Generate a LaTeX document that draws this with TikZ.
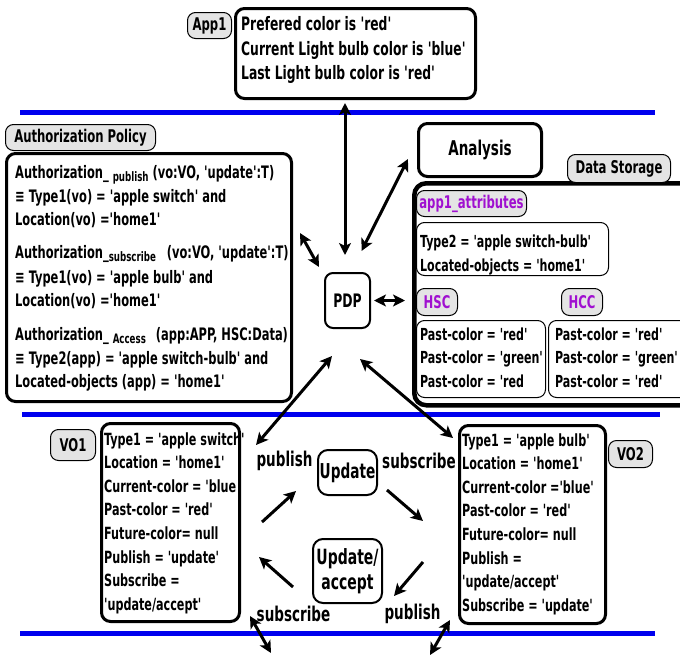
\documentclass[tikz,border=0pt]{standalone}
\usepackage{fontspec}
\newfontfamily\dv{DejaVu Sans Condensed Bold}[FakeStretch=0.74]
\usetikzlibrary{arrows.meta,calc}
\definecolor{lblgray}{HTML}{E4E4E4}
\definecolor{lblpurple}{HTML}{A010D0}
\definecolor{sepblue}{HTML}{0000EE}
\tikzset{
  T/.style={font=\dv\fontsize{#1}{20}\selectfont, inner sep=0pt, anchor=base west},
  T/.default=17.2,
  TC/.style={font=\dv\fontsize{17.5}{20}\selectfont},
  boxthick/.style={draw, line width=3pt, rounded corners=9pt, anchor=north west},
  boxthin/.style={draw, line width=1pt, rounded corners=8pt, anchor=north west},
  tag/.style={draw, line width=1pt, fill=lblgray, rounded corners=8pt, anchor=north west, inner sep=0pt, TC},
  sepline/.style={draw=sepblue, line width=5pt},
  dbl/.style={line width=3pt, {Stealth[length=12pt,width=12pt,inset=3pt]}-{Stealth[length=12pt,width=12pt,inset=3pt]}},
  sgl/.style={line width=3pt, -{Stealth[length=12pt,width=12pt,inset=3pt]}},
  lbl/.style={font=\dv\fontsize{20.3}{22}\selectfont, inner sep=0pt},
}
\newcommand{\subsm}[1]{\raisebox{-3pt}{\fontsize{13}{13}\selectfont #1}}
\begin{document}
\begin{tikzpicture}[x=1pt,y=-1pt]
\useasboundingbox (0,0) rectangle (680,656);

% separator lines
\draw[sepline] (20,112) -- (655,112);
\draw[sepline] (22,414) -- (660,414);
\draw[sepline] (20,633) -- (655,633);

% App1
\node[boxthick, minimum width=240pt, minimum height=90pt] (app1) at (234,7) {};
\node[tag, minimum width=44pt, minimum height=26pt] (app1tag) at (187,12) {App1};
\foreach \s [count=\i] in {{Prefered color is 'red'},{Current Light bulb color is 'blue'},{Last Light bulb color is 'red'}}
  \node[T=18.5] (app1l\i) at (241,{30.5+24.5*(\i-1)}) {\s};

% Authorization policy
\node[boxthick, minimum width=285pt, minimum height=248pt] (auth) at (5,152) {};
\node[tag, minimum width=150pt, minimum height=26pt] (authtag) at (5,124) {Authorization Policy};
\foreach \s/\yy [count=\i] in {
  {Authorization\_ \subsm{publish} (vo:VO, 'update':T)}/178,
  {≡ Type1(vo) = 'apple switch' and}/202,
  {Location(vo) ='home1'}/225,
  {Authorization\_\subsm{subscribe}\hspace{7pt} (vo:VO, 'update':T)}/258,
  {≡ Type1(vo) = 'apple bulb' and}/283,
  {Location(vo) ='home1'}/306,
  {Authorization\_ \subsm{Access}\hspace{6pt} (app:APP, HSC:Data)}/340,
  {≡ Type2(app) = 'apple switch-bulb' and}/364,
  {Located-objects (app) = 'home1'}/387}
  \node[T] (authl\i) at (15,\yy) {\s};

% PDP
\node[draw, line width=2pt, rounded corners=8pt, minimum width=45pt, minimum height=55pt,
  font=\dv\fontsize{18.6}{20}\selectfont] (pdp) at (347.5,300.5) {PDP};

% Analysis
\node[boxthick, minimum width=123pt, minimum height=53pt,
  font=\dv\fontsize{20.3}{22}\selectfont] (analysis) at (417,122) {Analysis};

% Data storage
\node[draw, line width=4.5pt, rounded corners=12pt, minimum width=290pt, minimum height=222pt, anchor=north west] (ds) at (412,181) {};
\node[tag, minimum width=103pt, minimum height=28pt] (dstag) at (567,154) {Data Storage};
\node[tag, text=lblpurple, minimum width=110pt, minimum height=26pt] (attrtag) at (416,190) {app1\_attributes};
\node[boxthin, minimum width=192pt, minimum height=53pt] (attr) at (416,222) {};
\node[T=16.6] (attrl1) at (420,247) {Type2 = 'apple switch-bulb'};
\node[T=16.6] (attrl2) at (420,271) {Located-objects = 'home1'};
\node[tag, text=lblpurple, minimum width=41pt, minimum height=27pt] (hsctag) at (416,288) {HSC};
\node[tag, text=lblpurple, minimum width=41pt, minimum height=27pt] (hcctag) at (561,288) {HCC};
\node[boxthin, minimum width=129pt, minimum height=77pt] (hsc) at (416,320) {};
\node[boxthin, minimum width=150pt, minimum height=77pt] (hcc) at (548,320) {};
\foreach \s/\yy [count=\i] in {{Past-color = 'red'}/340,{Past-color = 'green'}/363,{Past-color = 'red}/387}
  \node[T=16.6] (hscl\i) at (420,\yy) {\s};
\foreach \s/\yy [count=\i] in {{Past-color = 'red'}/340,{Past-color = 'green'}/363,{Past-color = 'red'}/387}
  \node[T=16.6] (hccl\i) at (555,\yy) {\s};

% VO1
\node[boxthick, minimum width=138pt, minimum height=198pt] (vo1) at (100,422) {};
\node[tag, minimum width=45pt, minimum height=31pt] (vo1tag) at (50,429) {VO1};
\foreach \s [count=\i] in {{Type1 = 'apple switch'},{Location = 'home1'},{Current-color = 'blue},{Past-color = 'red'},{Future-color= null},{Publish = 'update'},{Subscribe =},{'update/accept'}}
  \node[T=16.8] (vo1l\i) at (104,{445+23.6*(\i-1)}) {\s};

% VO2
\node[boxthick, minimum width=146pt, minimum height=198pt] (vo2) at (458,424) {};
\node[tag, minimum width=44pt, minimum height=27pt] (vo2tag) at (608,440) {VO2};
\foreach \s [count=\i] in {{Type1 = 'apple bulb'},{Location = 'home1'},{Current-color ='blue'},{Past-color = 'red'},{Future-color= null},{Publish =},{'update/accept'},{Subscribe = 'update'}}
  \node[T=16.8] (vo2l\i) at (462,{446+23.6*(\i-1)}) {\s};

% Update cycle
\node[draw, line width=2pt, rounded corners=10pt, minimum width=59pt, minimum height=45pt, inner sep=1pt,
  font=\dv\fontsize{20.5}{23}\selectfont] (upd) at (347.5,472.5) {Update};
\node[draw, line width=2pt, rounded corners=10pt, minimum width=69pt, minimum height=64pt, inner sep=1pt, align=center,
  font=\dv\fontsize{21}{25}\selectfont] (updacc) at (347.5,571) {Update/\\accept};
\node[lbl] (pub1) at (284.5,461) {publish};
\node[lbl] (sub1) at (419,461) {subscribe};
\node[lbl] (sub2) at (293.5,614) {subscribe};
\node[lbl] (pub2) at (412.5,614) {publish};

\coordinate (c1a) at (262,522); \coordinate (c1b) at (296,491);
\coordinate (c2a) at (387,490); \coordinate (c2b) at (423,521);
\coordinate (c3a) at (423,562); \coordinate (c3b) at (394,596);
\coordinate (c4a) at (293,587); \coordinate (c4b) at (259,557);
\draw[sgl] (c1a) -- (c1b);
\draw[sgl] (c2a) -- (c2b);
\draw[sgl] (c3a) -- (c3b);
\draw[sgl] (c4a) -- (c4b);

% connectors to PDP
\draw[dbl, shorten <=17pt, shorten >=3pt] ([xshift=-2.5pt]pdp.north) -- ([xshift=-2.5pt]pdp.north |- app1.south);
\draw[dbl] ($(pdp.north)+(14,-21)$) -- ($(analysis.west)+(-9,9)$);
\draw[dbl] ($(pdp.north west)+(-5,-5)$) -- ($(auth.north east)+(7,81)$);
\draw[dbl, line width=3.5pt, shorten <=3pt, shorten >=7pt] (pdp.east) -- (ds.west |- pdp.east);
\draw[dbl] ($(pdp.south)+(-15.5,27)$) -- ($(vo1.north east)+(15,23)$);
\draw[dbl] ($(pdp.south)+(12.5,30)$) -- ($(vo2.north west)+(-5,14)$);

% bottom connectors
\draw[dbl] ($(vo1.south east)+(9,-7)$) -- ($(vo1.south east)+(30,30)$);
\draw[dbl] ($(vo2.south west)+(-8,-5)$) -- ($(vo2.south west)+(-28,30)$);
\end{tikzpicture}
\end{document}
